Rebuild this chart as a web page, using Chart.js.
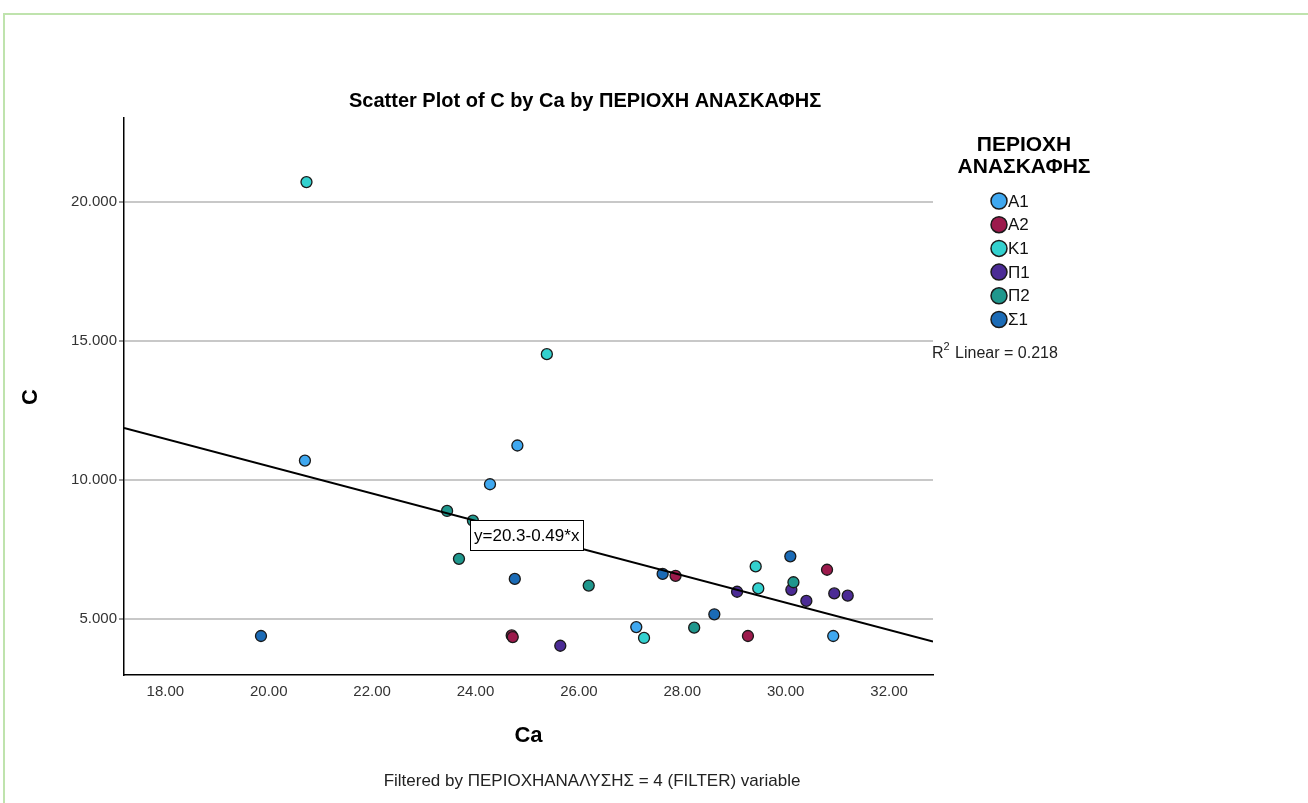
<!DOCTYPE html>
<html>
<head>
<meta charset="utf-8">
<script src="https://cdn.jsdelivr.net/npm/chart.js@4.4.1/dist/chart.umd.min.js"></script>
<style>
  html, body { margin: 0; padding: 0; background: #ffffff; }
  #wrap { position: relative; width: 1308px; height: 803px; overflow: hidden; }
  #frame { position: absolute; left: 3px; top: 13px; width: 1320px; height: 820px;
           border-top: 2px solid #bfe3ad; border-left: 2px solid #bfe3ad; box-sizing: border-box; }
  canvas { position: absolute; left: 0; top: 0; }
</style>
</head>
<body>
<div id="wrap">
  <div id="frame"></div>
  <canvas id="c" width="1308" height="803"></canvas>
</div>
<script>
// ---- data ----
const groups = ['A1', 'A2', 'K1', 'Π1', 'Π2', 'Σ1'];
const groupColors = ['#3fa8f0', '#9c1a4c', '#33d1cf', '#4b2b95', '#1f978d', '#1b6bb6'];

const caA1 = [20.70, 24.81, 24.28, 27.11, 30.92];
const cA1  = [10.70, 11.24,  9.85,  4.72,  4.40];
const caA2 = [24.70, 24.72, 27.87, 29.27, 30.80];
const cA2  = [ 4.42,  4.36,  6.56,  4.40,  6.78];
const caK1 = [20.73, 25.38, 27.26, 29.42, 29.47];
const cK1  = [20.70, 14.52,  4.33,  6.90,  6.11];
const caP1 = [25.64, 29.06, 30.11, 30.40, 30.94, 31.20];
const cP1  = [ 4.05,  5.99,  6.06,  5.66,  5.93,  5.85];
const caP2 = [23.45, 23.95, 23.68, 26.19, 28.23, 30.15];
const cP2  = [ 8.89,  8.54,  7.17,  6.21,  4.70,  6.33];
const caS1 = [19.85, 24.76, 27.62, 28.62, 30.09];
const cS1  = [ 4.40,  6.45,  6.63,  5.18,  7.26];

const xTicks = [18, 20, 22, 24, 26, 28, 30, 32];
const yTicks = [5, 10, 15, 20];
const xMin = 17.2, xMax = 32.85, yMin = 3, yMax = 23;

const fitIntercept = 20.3;
const fitSlope = -0.49;
const fitLabel = 'y=20.3-0.49*x';
const fitLabelAtX = 23.9;
const r2Text = '0.218';

const chartTitle = 'Scatter Plot of C by Ca by ΠΕΡΙΟΧΗ ΑΝΑΣΚΑΦΗΣ';
const xTitle = 'Ca';
const yTitle = 'C';
const legendTitle = ['ΠΕΡΙΟΧΗ', 'ΑΝΑΣΚΑΦΗΣ'];
const footer = 'Filtered by ΠΕΡΙΟΧΗΑΝΑΛΥΣΗΣ = 4 (FILTER) variable';

// ---- build datasets ----
const xs = [caA1, caA2, caK1, caP1, caP2, caS1];
const ys = [cA1, cA2, cK1, cP1, cP2, cS1];
const FONT = '"Liberation Sans", Arial, sans-serif';

const datasets = groups.map((g, i) => ({
  label: g,
  type: 'scatter',
  data: xs[i].map((x, k) => ({ x: x, y: ys[i][k] })),
  backgroundColor: groupColors[i],
  borderColor: '#1a1a1a',
  borderWidth: 1.3,
  pointRadius: 5.5,
  pointHoverRadius: 5.5,
  order: groups.length - i
}));

datasets.push({
  label: 'fit',
  type: 'line',
  data: [xMin, xMax].map(x => ({ x: x, y: fitIntercept + fitSlope * x })),
  borderColor: '#000000',
  borderWidth: 2,
  pointRadius: 0,
  fill: false,
  order: 0
});

const textPlugin = {
  id: 'texts',
  afterDraw(chart) {
    const ctx = chart.ctx;
    const ca = chart.chartArea;
    const xs_ = chart.scales.x, ys_ = chart.scales.y;
    const cx = (ca.left + ca.right) / 2;
    ctx.save();
    ctx.fillStyle = '#000';
    ctx.textBaseline = 'middle';

    ctx.textAlign = 'left';
    ctx.font = 'bold 20px ' + FONT;
    ctx.fillText(chartTitle, 349, 101);

    ctx.textAlign = 'center';
    ctx.font = 'bold 22px ' + FONT;
    ctx.fillText(xTitle, cx, 736);
    ctx.save();
    ctx.translate(31, 397);
    ctx.rotate(-Math.PI / 2);
    ctx.fillText(yTitle, 0, 0);
    ctx.restore();

    ctx.fillStyle = '#222';
    ctx.font = '17px ' + FONT;
    ctx.textAlign = 'center';
    ctx.fillText(footer, 592, 781);

    // fit equation label
    const lx = Math.round(xs_.getPixelForValue(fitLabelAtX));
    const ly = Math.round(ys_.getPixelForValue(fitIntercept + fitSlope * fitLabelAtX)) + 1;
    ctx.font = '17px ' + FONT;
    const w = Math.round(ctx.measureText(fitLabel).width + 8);
    ctx.fillStyle = '#fff';
    ctx.fillRect(lx, ly, w, 30);
    ctx.strokeStyle = '#000';
    ctx.lineWidth = 1;
    ctx.strokeRect(lx + 0.5, ly + 0.5, w, 30);
    ctx.fillStyle = '#000';
    ctx.textAlign = 'left';
    ctx.fillText(fitLabel, lx + 4, ly + 16);

    // legend
    ctx.textAlign = 'center';
    ctx.font = 'bold 21px ' + FONT;
    ctx.fillText(legendTitle[0], 1024, 145);
    ctx.fillText(legendTitle[1], 1024, 167);
    ctx.font = '17px ' + FONT;
    groups.forEach((g, i) => {
      const y = 201 + i * 23.7;
      ctx.beginPath();
      ctx.arc(999, y, 8, 0, Math.PI * 2);
      ctx.fillStyle = groupColors[i];
      ctx.fill();
      ctx.lineWidth = 1.5;
      ctx.strokeStyle = '#1a1a1a';
      ctx.stroke();
      ctx.fillStyle = '#111';
      ctx.textAlign = 'left';
      ctx.fillText(g, 1008, y + 1);
    });
    ctx.font = '16px ' + FONT;
    ctx.fillStyle = '#222';
    ctx.fillText('R', 932, 354);
    const rw = ctx.measureText('R').width;
    ctx.font = '11px ' + FONT;
    ctx.fillText('2', 932 + rw, 347);
    const sw = ctx.measureText('2').width;
    ctx.font = '16px ' + FONT;
    ctx.fillText(' Linear = ' + r2Text, 932 + rw + sw + 1, 354);
    ctx.restore();
  }
};

new Chart(document.getElementById('c'), {
  type: 'scatter',
  data: { datasets: datasets },
  options: {
    responsive: false,
    animation: false,
    devicePixelRatio: 1,
    events: [],
    layout: { padding: { left: 0, top: 118, right: 375, bottom: 0 } },
    plugins: { legend: { display: false }, tooltip: { enabled: false }, title: { display: false } },
    scales: {
      x: {
        type: 'linear',
        min: xMin, max: xMax,
        afterBuildTicks(s) { s.ticks = xTicks.map(v => ({ value: v })); },
        afterFit(s) { s.height = 128; },
        grid: { display: false, drawTicks: false },
        border: { display: true, color: '#000', width: 1.5 },
        ticks: {
          padding: 8,
          color: '#333',
          font: { family: FONT, size: 15 },
          callback: v => Number(v).toFixed(2),
          maxRotation: 0, autoSkip: false
        }
      },
      y: {
        type: 'linear',
        min: yMin, max: yMax,
        afterBuildTicks(s) { s.ticks = yTicks.map(v => ({ value: v })); },
        afterFit(s) { s.width = 124; },
        grid: { color: '#c8c8c8', lineWidth: 2, drawTicks: true, tickLength: 5, tickColor: '#333', tickWidth: 1 },
        border: { display: true, color: '#000', width: 1.5 },
        ticks: {
          padding: 2,
          color: '#333',
          font: { family: FONT, size: 15 },
          callback: v => Number(v).toFixed(3)
        }
      }
    }
  },
  plugins: [textPlugin]
});
</script>
</body>
</html>
